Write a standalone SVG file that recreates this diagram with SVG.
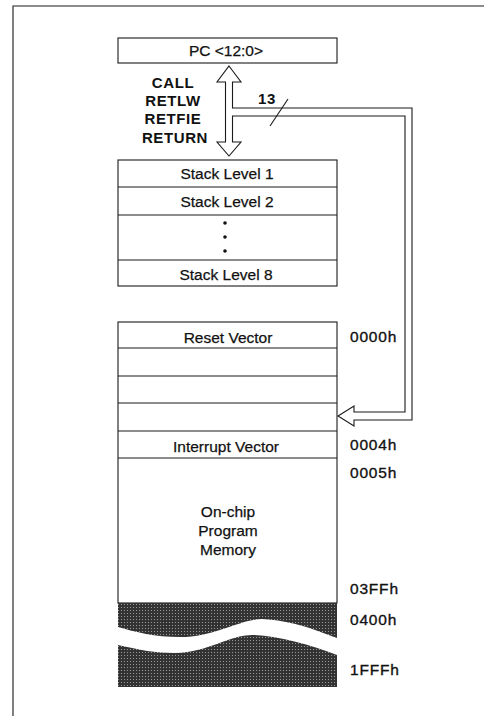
<svg xmlns="http://www.w3.org/2000/svg" width="484" height="716" viewBox="0 0 484 716">
<style>
.box{fill:#fff;stroke:#1a1a1a;stroke-width:1.1}
.ln{fill:none;stroke:#1a1a1a;stroke-width:1.1}
.t{font-family:"Liberation Sans",Arial,sans-serif;font-size:15.5px;fill:#111;stroke:#111;stroke-width:0.25;text-anchor:middle}
.b{font-family:"Liberation Sans",Arial,sans-serif;font-size:15px;font-weight:bold;fill:#111;letter-spacing:0.6px}
.a{font-family:"Liberation Sans",Arial,sans-serif;font-size:15.5px;fill:#111;stroke:#111;stroke-width:0.35;letter-spacing:0.8px}
.h{text-anchor:start}
.c{text-anchor:middle}
</style>
<defs>
<pattern id="stip" width="3" height="3" patternUnits="userSpaceOnUse">
<rect width="3" height="3" fill="#333"/>
<rect x="1" y="1" width="1" height="1" fill="#999"/>
</pattern>
</defs>
<path class="ln" d="M13,716 L13,6 L484,6"/>
<g id="pc">
<rect class="box" x="118" y="38" width="219" height="25"/>
<text class="t" x="226" y="56">PC &lt;12:0&gt;</text>
</g>
<g id="connectors">
<path class="box" d="M229,66 L241,82 L232.5,82 L232.5,108 L412,108 L412,420 L354,420 L354,426 L338,416 L354,406 L354,412 L405,412 L405,116 L232.5,116 L232.5,142 L241,142 L229,156 L217,142 L225.5,142 L225.5,82 L217,82 Z"/>
<path class="ln" d="M270,126 L288,99"/>
<text class="b c" x="267" y="104">13</text>
</g>
<g id="ops">
<text class="b c" x="173" y="88">CALL</text>
<text class="b c" x="173" y="106">RETLW</text>
<text class="b c" x="173" y="124">RETFIE</text>
<text class="b c" x="175" y="143">RETURN</text>
</g>
<g id="stack">
<rect class="box" x="118" y="160" width="219" height="126"/>
<path class="ln" d="M118,187 H337 M118,215 H337 M118,260 H337"/>
<text class="t" x="227" y="179">Stack Level 1</text>
<text class="t" x="227" y="207">Stack Level 2</text>
<circle cx="225" cy="223" r="1.8" fill="#111"/>
<circle cx="225" cy="237" r="1.8" fill="#111"/>
<circle cx="225" cy="251" r="1.8" fill="#111"/>
<text class="t" x="226" y="280">Stack Level 8</text>
</g>
<g id="memory">
<rect class="box" x="118" y="322" width="219" height="281"/>
<path class="ln" d="M118,348 H337 M118,376 H337 M118,403 H337 M118,431 H337 M118,458 H337"/>
<text class="t" x="228" y="343">Reset Vector</text>
<text class="t" x="226" y="452">Interrupt Vector</text>
<text class="t" x="228" y="517">On-chip</text>
<text class="t" x="228" y="536">Program</text>
<text class="t" x="228" y="555">Memory</text>
<path fill="url(#stip)" d="M118,603 L337,603 L337,638 C315,630 295,621 262,619 C240,619 215,637 180,637 C155,637 135,632 118,627 Z"/>
<path fill="url(#stip)" d="M118,645 C140,650 155,653 175,653 C210,652 228,635 253,635 C280,636 310,645 337,655 L337,687 L118,687 Z"/>
</g>
<g id="addresses">
<text class="a h" x="350" y="342">0000h</text>
<text class="a h" x="350" y="450">0004h</text>
<text class="a h" x="350" y="478">0005h</text>
<text class="a h" x="350" y="594">03FFh</text>
<text class="a h" x="350" y="625">0400h</text>
<text class="a h" x="350" y="675">1FFFh</text>
</g>
</svg>
